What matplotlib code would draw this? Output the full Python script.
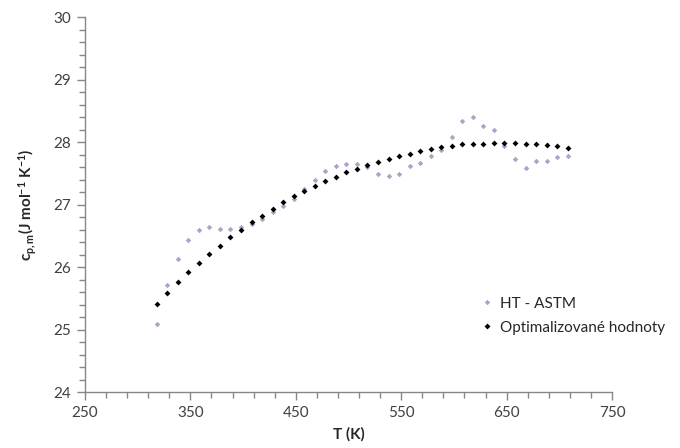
import numpy as np
import matplotlib
matplotlib.use('Agg')
import matplotlib.pyplot as plt

plt.rcParams['font.family'] = ['Lato', 'DejaVu Sans']
plt.rcParams['mathtext.fontset'] = 'custom'
plt.rcParams['mathtext.rm'] = 'Lato'
plt.rcParams['mathtext.bf'] = 'Lato:bold'
plt.rcParams['mathtext.it'] = 'Lato:italic'

# temperatures (K)
T = [318, 328, 338, 348, 358, 368, 378, 388, 398, 408,
     418, 428, 438, 448, 458, 468, 478, 488, 498, 508,
     518, 528, 538, 548, 558, 568, 578, 588, 598, 608,
     618, 628, 638, 648, 658, 668, 678, 688, 698, 708]

# HT - ASTM measured values
cp_astm = [25.10, 25.72, 26.13, 26.44, 26.60, 26.65, 26.61, 26.61, 26.64, 26.70,
           26.78, 26.88, 26.99, 27.10, 27.25, 27.40, 27.54, 27.63, 27.66, 27.66,
           27.60, 27.49, 27.46, 27.49, 27.63, 27.67, 27.78, 27.88, 28.08, 28.35,
           28.41, 28.27, 28.20, 27.95, 27.74, 27.59, 27.70, 27.70, 27.76, 27.78]

# optimised values
cp_opt = [25.41, 25.59, 25.76, 25.92, 26.07, 26.21, 26.35, 26.48, 26.60, 26.72,
          26.83, 26.94, 27.04, 27.14, 27.23, 27.30, 27.38, 27.45, 27.52, 27.58,
          27.64, 27.69, 27.74, 27.79, 27.82, 27.86, 27.90, 27.92, 27.95, 27.97,
          27.98, 27.98, 27.99, 27.99, 27.99, 27.98, 27.97, 27.96, 27.94, 27.91]

fig = plt.figure(figsize=(6.8, 4.48), dpi=100)
ax = fig.add_axes([0.125, 0.124, 0.775, 0.837])

ax.plot(T, cp_astm, 'D', color='#b3a2c7', ms=2.8, mew=0, label='HT - ASTM')
ax.plot(T, cp_opt, 'D', color='black', ms=3.0, mew=0, label='Optimalizované hodnoty')

ax.set_xlim(250, 750)
ax.set_ylim(24, 30)
ax.set_xticks(np.arange(250, 751, 100))
ax.set_xticks(np.arange(250, 751, 20), minor=True)
ax.set_yticks(np.arange(24, 30.01, 1))
ax.set_yticks(np.arange(24, 30.01, 0.2), minor=True)

for s in ['top', 'right']:
    ax.spines[s].set_visible(False)
for s in ['left', 'bottom']:
    ax.spines[s].set_color('#868686')
    ax.spines[s].set_linewidth(1.0)
ax.tick_params(which='major', length=6, width=1.0, color='#868686',
               labelsize=11, labelcolor='#404040', pad=4)
ax.tick_params(which='minor', length=4, width=1.0, color='#868686')

ax.set_xlabel('T (K)', fontsize=11, fontweight='bold', color='#262626', labelpad=5)
ax.set_ylabel(r'c$_{\mathbf{p,m}}$(J mol$^{\mathbf{-1}}$ K$^{\mathbf{-1}}$)',
              fontsize=11, fontweight='bold', color='#262626', labelpad=10)

ax.legend(loc='upper left', bbox_to_anchor=(0.755, 0.255), frameon=False,
          fontsize=11, handlelength=0.6, handletextpad=0.5, labelspacing=0.65,
          borderpad=0, borderaxespad=0, labelcolor='#262626')

fig.savefig('out.png', dpi=100)
